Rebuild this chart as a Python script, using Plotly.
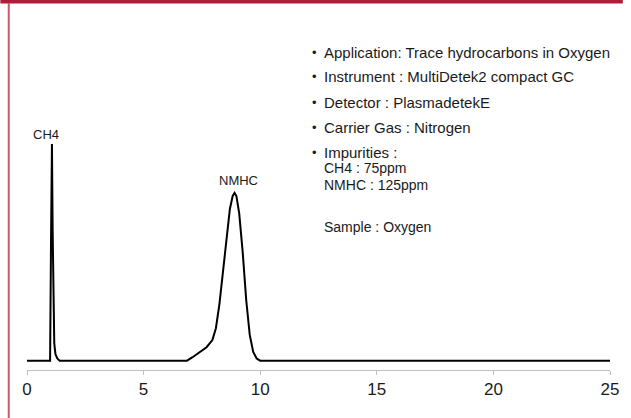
import plotly.graph_objects as go

# ---- data ----
time_min = [0.0, 0.99, 1.03, 1.07, 1.10, 1.13, 1.17, 1.22, 1.30, 1.40,
            6.86, 7.1, 7.4, 7.7, 7.95, 8.1, 8.25, 8.4, 8.55, 8.7, 8.82, 8.9,
            8.98, 9.1, 9.25, 9.4, 9.55, 9.7, 9.85, 10.0, 25.0]
signal = [0.0, 0.0, 55.0, 100.0, 60.0, 22.0, 8.0, 3.0, 1.0, 0.0,
          0.0, 1.6, 3.7, 6.2, 9.5, 15.0, 26.0, 41.0, 57.0, 70.0, 76.0, 77.4,
          76.0, 68.0, 50.0, 28.0, 12.0, 4.0, 1.0, 0.0, 0.0]

peak_names = ["CH4", "NMHC"]
peak_label_x = [0.82, 9.06]
peak_label_y = [104.5, 83.0]

x_ticks = [0, 5, 10, 15, 20, 25]

info_lines = ["Application: Trace hydrocarbons in Oxygen",
              "Instrument : MultiDetek2 compact GC",
              "Detector : PlasmadetekE",
              "Carrier Gas : Nitrogen",
              "Impurities :"]
extra_lines = ["CH4 : 75ppm", "NMHC : 125ppm", "Sample : Oxygen"]

# ---- layout geometry (pixels) ----
W, H = 631, 418
ML, MR, MT, MB = 27, 13, 30, 48
PW, PH = W - ML - MR, H - MT - MB

def px(x):
    return (x - ML) / PW

def py(y):
    return (H - MB - y) / PH

FONT = "Liberation Sans, Arial, sans-serif"
TXT = "#1a1a1a"

fig = go.Figure()
fig.add_trace(go.Scatter(x=time_min, y=signal, mode="lines",
                         line=dict(color="black", width=2),
                         hoverinfo="skip", showlegend=False))

for name, lx, ly in zip(peak_names, peak_label_x, peak_label_y):
    fig.add_annotation(x=lx, y=ly, text=name, showarrow=False,
                       font=dict(family=FONT, size=13, color=TXT),
                       xanchor="center", yanchor="middle")

bullet_y = [53, 77, 102, 127, 152]
for t, yy in zip(info_lines, bullet_y):
    fig.add_annotation(xref="paper", yref="paper", x=px(318.5), y=py(yy),
                       text="\u2022", showarrow=False, xanchor="center",
                       yanchor="middle", font=dict(family=FONT, size=13, color=TXT))
    fig.add_annotation(xref="paper", yref="paper", x=px(326), y=py(yy),
                       text=t, showarrow=False, xanchor="left",
                       yanchor="middle", font=dict(family=FONT, size=15, color=TXT))
extra_y = [168, 185, 227]
for t, yy in zip(extra_lines, extra_y):
    fig.add_annotation(xref="paper", yref="paper", x=px(326), y=py(yy),
                       text=t, showarrow=False, xanchor="left",
                       yanchor="middle", font=dict(family=FONT, size=14, color=TXT))

# decorative frame: red top band and left rule
fig.add_shape(type="rect", xref="paper", yref="paper",
              x0=px(0), x1=px(W), y0=py(3.5), y1=py(0),
              fillcolor="#B01C3A", line_width=0, layer="above")
fig.add_shape(type="line", xref="paper", yref="paper",
              x0=px(8.5), x1=px(8.5), y0=py(3), y1=py(H),
              line=dict(color="#C95A6F", width=2), layer="above")

fig.update_layout(
    width=W, height=H,
    margin=dict(l=ML, r=MR, t=MT, b=MB),
    paper_bgcolor="white", plot_bgcolor="white",
    font=dict(family=FONT, color=TXT),
    xaxis=dict(range=[0, 25], tickvals=x_ticks, showgrid=False, zeroline=False,
               showline=True, linecolor="#BFBFBF", linewidth=1,
               ticks="outside", ticklen=4, tickcolor="#BFBFBF",
               tickfont=dict(family=FONT, size=17, color=TXT)),
    yaxis=dict(range=[-4.3, 152.6], visible=False),
)

fig.write_html("out.html", config={"displayModeBar": False},
               post_script="document.body.style.margin='0';")
